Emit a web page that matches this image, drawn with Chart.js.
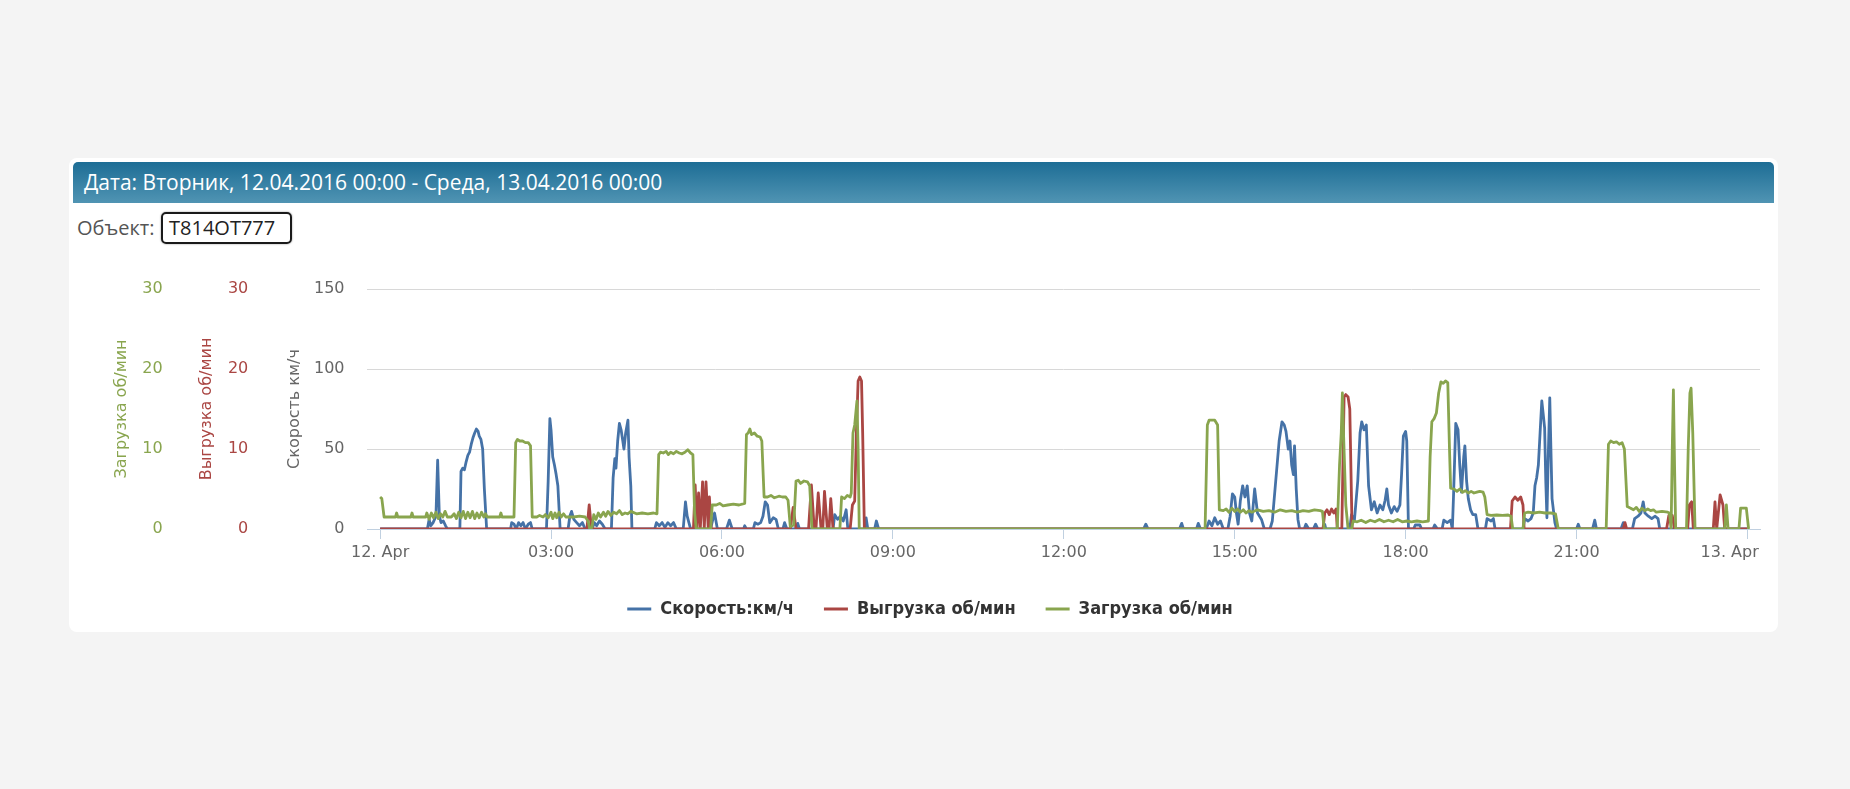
<!DOCTYPE html>
<html lang="ru">
<head>
<meta charset="utf-8">
<title>Скорость и обороты</title>
<script src="https://cdn.jsdelivr.net/npm/chart.js@4.4.1/dist/chart.umd.min.js"></script>
<style>
  html, body { margin: 0; padding: 0; }
  body { width: 1850px; height: 789px; background: #f4f4f4; position: relative; overflow: hidden; font-family: "Open Sans", sans-serif; }
  .card { position: absolute; left: 69px; top: 158px; width: 1709px; height: 474px; background: #fff; border-radius: 8px; }
  .head { position: absolute; left: 73px; top: 162px; width: 1701px; height: 41px; border-radius: 5px 5px 0 0;
          background: linear-gradient(#1d6d95, #5094b3); color: #fff; font-size: 21px; line-height: 41px; padding-left: 11px; box-sizing: border-box; }
  .obj { position: absolute; left: 77px; top: 212px; font-size: 20px; line-height: 32px; color: #555; }
  .plate { position: absolute; left: 161px; top: 212px; width: 131px; height: 32px; box-sizing: border-box; border: 2px solid #1a1a1a;
           border-radius: 5px; box-shadow: 0 0 2px rgba(0,0,0,.45); padding-left: 6px; font-size: 20px; line-height: 28px; color: #222; }
  .wrap { position: absolute; left: 72px; top: 250px; width: 1704px; height: 378px; }
</style>
</head>
<body>
<div class="card"></div>
<div class="head">Дата: Вторник, 12.04.2016 00:00 - Среда, 13.04.2016 00:00</div>
<div class="obj">Объект:</div>
<div class="plate">T814OT777</div>
<div class="wrap"><canvas id="chart"></canvas></div>

<script>
// ---------------------------Data (hours since 12.04 00:00)------------------------------
const tickHours = [0, 3, 6, 9, 12, 15, 18, 21, 24];
const tickLabels = ["12. Apr", "03:00", "06:00", "09:00", "12:00", "15:00", "18:00", "21:00", "13. Apr"];
const seriesNames = ["Скорость:км/ч", "Выгрузка об/мин", "Загрузка об/мин"];

// speed, km/h
const speedPts = [
  [0,0],[0.83,0],[0.86,6],[0.89,2],[0.93,4],[0.98,8],[1.01,43],[1.04,8],[1.07,4],[1.11,5],[1.15,2],[1.18,0],
  [1.4,0],[1.42,36],[1.45,38],[1.48,37],[1.51,42],[1.54,46],[1.57,48],[1.6,53],[1.63,57],[1.66,60],[1.69,62.5],[1.72,61],[1.74,58],[1.77,56],[1.8,50],[1.83,25],[1.87,0],
  [2.29,0],[2.31,4],[2.35,3],[2.39,0],[2.43,4],[2.47,2],[2.51,4],[2.55,0],[2.6,3],[2.64,4],[2.67,0],
  [2.92,0],[2.95,30],[2.98,69],[3.0,62],[3.03,45],[3.06,40],[3.09,34],[3.12,27],[3.16,0],
  [3.3,0],[3.33,8],[3.36,11],[3.4,6],[3.45,4],[3.5,2],[3.55,4],[3.6,0],[3.72,0],[3.76,4],[3.8,2],[3.85,5],[3.9,3],[3.95,0],
  [4.06,0],[4.09,32],[4.12,44],[4.14,38],[4.17,55],[4.2,66],[4.23,62],[4.26,55],[4.28,50],[4.31,60],[4.35,68],[4.37,45],[4.4,27],[4.42,0],
  [4.82,0],[4.85,4],[4.9,2],[4.95,4],[5.0,1],[5.05,4],[5.1,2],[5.15,4],[5.2,0],[5.32,0],[5.36,17],[5.39,8],[5.42,4],[5.45,0],
  [5.8,0],[5.84,6],[5.87,10],[5.92,0],[6.08,0],[6.13,5.5],[6.18,0],[6.38,0],[6.4,2],[6.43,0],[6.55,0],[6.58,4],[6.63,3],[6.68,4],
  [6.72,8],[6.76,17],[6.8,15],[6.84,4],[6.9,7],[6.95,6],[6.99,0],[7.07,0],[7.1,4],[7.14,0],[7.3,0],[7.33,3.5],[7.36,0],
  [7.95,0],[7.98,9],[8.03,6],[8.08,8],[8.13,5],[8.18,12],[8.21,0],[8.5,0],[8.53,7],[8.56,0],[8.68,0],[8.71,5],[8.75,0],
  [13.4,0],[13.44,3],[13.48,0],[14.03,0],[14.07,3.5],[14.1,0],[14.33,0],[14.36,3.5],[14.4,0],
  [14.5,0],[14.55,5],[14.6,2],[14.65,7],[14.7,3],[14.75,5],[14.8,0],[14.88,0],[14.92,8],[14.96,22],[15.0,20],[15.03,10],[15.06,3],
  [15.1,18],[15.14,27],[15.18,20],[15.22,27],[15.26,10],[15.3,5],[15.35,25],[15.4,10],[15.47,6],[15.52,0],
  [15.62,0],[15.66,5],[15.72,30],[15.78,55],[15.83,67],[15.87,65],[15.9,61],[15.94,50],[15.97,55],[16.0,40],[16.03,34],[16.05,52],[16.08,25],[16.11,6],[16.14,0],
  [16.22,0],[16.25,3],[16.3,0],[16.38,0],[16.42,3],[16.46,0],[16.55,0],[16.58,3],[16.6,0],
  [17.02,0],[17.05,9],[17.1,5],[17.16,30],[17.2,60],[17.23,67],[17.27,62],[17.31,65],[17.35,27],[17.4,12],[17.45,17],[17.5,10],[17.55,15],
  [17.6,12],[17.64,18],[17.67,25],[17.7,15],[17.75,10],[17.8,14],[17.85,11],[17.9,15],[17.93,35],[17.96,58],[18.0,61],[18.02,55],[18.05,0],
  [18.14,0],[18.17,2.5],[18.25,2.5],[18.28,0],[18.48,0],[18.51,2.5],[18.56,0],[18.64,0],[18.67,5.5],[18.73,4],[18.79,5.5],[18.82,0],
  [18.84,20],[18.88,66],[18.92,62],[18.95,40],[18.98,23],[19.02,45],[19.04,52],[19.07,30],[19.1,19],[19.14,12],[19.18,9],[19.23,9],[19.27,0],
  [19.4,0],[19.43,6.5],[19.5,5],[19.54,6.5],[19.57,0],[20.06,0],[20.09,6.5],[20.15,5],[20.2,6.5],[20.24,10],[20.27,27],[20.3,32],[20.33,40],
  [20.36,60],[20.39,80],[20.42,70],[20.44,63],[20.46,30],[20.48,7],[20.5,40],[20.53,82],[20.55,50],[20.57,19],[20.62,4],[20.65,0],
  [21.0,0],[21.03,3],[21.06,0],[21.28,0],[21.32,5.5],[21.35,0],[21.78,0],[21.82,4],[21.86,0],
  [21.98,0],[22.02,6.5],[22.08,8],[22.13,10],[22.17,17],[22.2,10],[22.26,8],[22.32,6.5],[22.38,8],[22.43,6.5],[22.46,0],[24.0,0]
];

// unloading, rpm
const unloadPts = [
  [0,0],[3.63,0],[3.67,3],[3.71,0],[5.5,0],[5.53,5.5],[5.56,0],[5.59,4.5],[5.62,0],[5.66,5.9],[5.69,0],[5.72,5.9],[5.76,0],[5.78,4],[5.81,0],
  [7.2,0],[7.25,2.7],[7.3,0],[7.52,0],[7.57,5.5],[7.62,0],[7.65,0],[7.69,4.5],[7.74,0],[7.77,0],[7.8,4.7],[7.85,0],[7.88,0],[7.91,3.8],[7.95,0],
  [8.25,0],[8.29,3],[8.33,3.5],[8.36,12],[8.39,18.5],[8.42,19],[8.45,18.5],[8.47,12],[8.5,0],
  [16.55,0],[16.58,2],[16.62,2.4],[16.66,1.8],[16.7,2.5],[16.74,2],[16.78,2.5],[16.8,0],[16.88,0],[16.92,16.5],[16.95,16.8],[16.99,16.5],[17.02,15],[17.06,0],
  [19.84,0],[19.87,3.5],[19.92,4],[19.97,3.6],[20.02,4],[20.06,3],[20.08,0],[21.82,0],[21.85,0.8],[21.88,0],
  [22.58,0],[22.62,1.7],[22.68,1.7],[22.72,0],[22.95,0],[22.98,3],[23.02,3.4],[23.05,0],[23.4,0],[23.43,3.4],[23.46,0],[23.52,4.25],[23.57,3],[23.6,0],[24.0,0]
];

// loading, rpm
const loadPts = [
  [0,4],[0.03,3.8],[0.07,1.5],[0.27,1.5],[0.29,2],[0.31,1.5],[0.54,1.5],[0.56,2],[0.58,1.5],[0.8,1.5],[0.82,2],[0.86,1.2],[0.9,2],[0.94,1.4],
  [0.98,2.1],[1.02,1.3],[1.06,1.9],[1.1,1.5],[1.14,2.2],[1.18,1.5],[1.25,1.5],[1.3,1.9],[1.34,1.3],[1.38,2.1],[1.42,1.4],[1.46,2.2],[1.5,1.3],
  [1.54,2.1],[1.58,1.4],[1.62,2.2],[1.66,1.3],[1.7,2],[1.74,1.4],[1.78,2.1],[1.82,1.5],[1.85,1.9],[1.88,1.5],[2.1,1.5],[2.12,2],[2.14,1.5],
  [2.35,1.5],[2.38,10.8],[2.41,11.2],[2.45,11],[2.5,11],[2.55,10.8],[2.6,10.8],[2.64,10.4],[2.67,1.5],
  [2.75,1.5],[2.8,1.7],[2.86,1.5],[2.9,1.8],[2.95,1.4],[3.0,2.1],[3.03,1.3],[3.07,2],[3.1,1.4],[3.14,2.1],[3.18,1.5],[3.22,1.9],[3.26,1.5],
  [3.4,1.5],[3.5,1.6],[3.6,1.5],[3.65,1],[3.68,0],[3.72,0.2],[3.75,1.8],[3.79,1.2],[3.83,2],[3.87,1.5],[3.92,2.1],[3.96,1.6],[4.0,2.2],
  [4.05,1.7],[4.1,2.1],[4.15,1.9],[4.2,2.3],[4.25,1.8],[4.3,2],[4.35,1.9],[4.4,2.2],[4.5,1.9],[4.6,2],[4.7,1.9],[4.8,2],[4.86,1.9],
  [4.89,9.3],[4.92,9.6],[4.97,9.5],[5.02,9.7],[5.06,9.3],[5.1,9.6],[5.15,9.4],[5.2,9.7],[5.25,9.5],[5.3,9.4],[5.35,9.6],[5.4,9.9],[5.45,9.5],[5.49,9.3],
  [5.52,2],[5.55,0],[5.8,0],[5.83,3],[5.9,3],[5.96,3.2],[6.02,2.9],[6.1,3],[6.2,3.1],[6.3,3],[6.4,3.2],
  [6.43,11.8],[6.46,12],[6.49,12.5],[6.52,11.8],[6.57,12],[6.62,11.6],[6.67,11.5],[6.7,11],[6.74,4],[6.8,4],[6.86,4.2],[6.92,3.9],[7.0,4.1],
  [7.06,4],[7.12,4],[7.16,3.6],[7.2,0.3],[7.26,0.5],[7.3,6],[7.34,6.1],[7.38,5.7],[7.44,6],[7.5,5.9],[7.54,5.4],[7.58,0],
  [8.07,0],[8.1,4],[8.15,3.8],[8.2,4.2],[8.25,4],[8.27,4.5],[8.3,12],[8.33,13],[8.37,16],[8.39,10],[8.41,0],
  [14.48,0],[14.52,13],[14.55,13.6],[14.65,13.6],[14.7,13],[14.73,2.4],[14.8,2.3],[14.85,2.5],[14.9,2.1],[14.95,2.6],[15.0,2.2],[15.05,2.5],
  [15.1,2.1],[15.15,2.4],[15.2,2],[15.25,2.3],[15.3,2.1],[15.4,2.4],[15.5,2.2],[15.6,2.3],[15.7,2.1],[15.8,2.4],[15.9,2.2],[16.0,2.3],
  [16.1,2.1],[16.2,2.3],[16.3,2.2],[16.4,2.4],[16.5,2.3],[16.54,2.2],[16.57,0],[16.8,0],[16.84,8],[16.87,12],[16.89,17],[16.91,12],[16.95,3],[16.99,0],
  [17.05,0],[17.08,1],[17.15,0.9],[17.22,1.1],[17.3,0.8],[17.38,1.1],[17.46,0.9],[17.54,1.2],[17.62,0.9],[17.7,1.1],[17.78,0.9],[17.86,1.2],
  [17.94,0.9],[18.02,1],[18.1,0.9],[18.2,1],[18.3,0.9],[18.4,1],[18.43,9],[18.46,13.4],[18.5,13.8],[18.54,14.5],[18.58,17],[18.62,18.4],
  [18.66,18.2],[18.7,18.5],[18.74,18.3],[18.77,10],[18.79,5.1],[18.85,5],[18.9,4.7],[18.95,5],[19.0,4.6],[19.05,4.8],[19.1,4.5],[19.15,4.7],
  [19.2,4.5],[19.25,4.6],[19.3,4.7],[19.36,4.6],[19.39,4],[19.43,1.8],[19.5,1.7],[19.6,1.75],[19.7,1.7],[19.8,1.75],[19.85,1.6],[19.88,0],
  [20.06,0],[20.09,2],[20.15,2.1],[20.25,2],[20.35,2.1],[20.45,2],[20.55,2],[20.63,1.9],[20.68,0],
  [21.52,0],[21.56,10.6],[21.6,11],[21.65,10.8],[21.7,10.9],[21.75,10.6],[21.8,10.8],[21.84,10],[21.89,2.8],[21.95,2.6],[22.0,2.4],[22.05,2.7],
  [22.1,2.2],[22.15,2.6],[22.2,2.3],[22.25,2.5],[22.3,2.3],[22.35,2.4],[22.4,2.1],[22.5,2.2],[22.6,2.1],[22.63,2],[22.66,0],
  [22.68,10],[22.7,17.4],[22.72,8],[22.74,0],[22.93,0],[22.96,10],[22.99,17],[23.01,17.6],[23.04,12],[23.08,0],
  [23.6,0],[23.63,3],[23.66,0],[23.85,0],[23.88,2.6],[23.98,2.6],[24.02,0]
];
// ----------------------------------------------------------------------------------------------

const BLUE = "#4572a7", RED = "#aa4643", GREEN = "#89a54e";
const axisFont = { family: "DejaVu Sans", size: 16 };
const toXY = (pts) => pts.map(([x, y]) => ({ x, y }));
const fixWidth = (w) => (scale) => { scale.width = w; };

const line = (label, pts, color, axis, order) => ({
  label, data: toXY(pts), yAxisID: axis, order,
  borderColor: color, backgroundColor: color, borderWidth: 2.8,
  pointRadius: 0, tension: 0, fill: false, borderJoinStyle: "round",
});

new Chart(document.getElementById("chart"), {
  type: "line",
  data: {
    datasets: [
      line(seriesNames[0], speedPts, BLUE, "y", 3),
      line(seriesNames[1], unloadPts, RED, "yR", 2),
      line(seriesNames[2], loadPts, GREEN, "yG", 1),
    ],
  },
  options: {
    responsive: true,
    maintainAspectRatio: false,
    animation: false,
    layout: { padding: { left: 28, right: 16, top: 39, bottom: 0 } },
    plugins: {
      tooltip: { enabled: false },
      legend: {
        position: "bottom",
        labels: {
          boxWidth: 24, boxHeight: 3, padding: 30, color: "#333",
          font: { family: "DejaVu Sans Condensed", size: 18, weight: "bold" },
          sort: (a, b) => a.datasetIndex - b.datasetIndex,
          generateLabels: (chart) =>
            Chart.defaults.plugins.legend.labels.generateLabels(chart).map((l) => ({ ...l, lineWidth: 0 })),
        },
      },
    },
    scales: {
      x: {
        type: "linear", min: -0.23, max: 24.22,
        grid: { drawOnChartArea: false, drawTicks: true, tickLength: 10, tickColor: "#c0d0e0" },
        border: { color: "#c0d0e0" },
        afterBuildTicks: (scale) => { scale.ticks = tickHours.map((v) => ({ value: v })); },
        afterFit: (scale) => { scale.height = 41; scale.paddingLeft = 0; scale.paddingRight = 0; },
        ticks: {
          autoSkip: false, maxRotation: 0, padding: 4, color: "#666", font: axisFont,
          // last label is pushed left to stay inside the plot, like the original
          callback: (v, i) => (i === tickLabels.length - 1 ? tickLabels[i] + "\u00a0".repeat(7) : tickLabels[i]),
        },
      },
      y: {
        position: "left", weight: 0, min: 0, max: 150,
        grid: { color: "#d8d8d8", drawTicks: false },
        border: { display: false },
        afterFit: fixWidth(105),
        ticks: { stepSize: 50, padding: 22.5, color: "#666", font: axisFont },
        title: { display: true, text: "Скорость км/ч", color: "#666", font: axisFont, padding: { top: 23.4, bottom: 0 } },
      },
      yR: {
        position: "left", weight: 1, min: 0, max: 30,
        grid: { display: false, drawTicks: false },
        border: { display: false },
        afterFit: fixWidth(90),
        ticks: { stepSize: 10, padding: 13.7, color: RED, font: axisFont },
        title: { display: true, text: "Выгрузка об/мин", color: RED, font: axisFont, padding: { top: 25.1, bottom: 0 } },
      },
      yG: {
        position: "left", weight: 2, min: 0, max: 30,
        grid: { display: false, drawTicks: false },
        border: { display: false },
        afterFit: fixWidth(72),
        ticks: { stepSize: 10, padding: 9.3, color: GREEN, font: axisFont },
        title: { display: true, text: "Загрузка об/мин", color: GREEN, font: axisFont, padding: { top: 12.1, bottom: 0 } },
      },
    },
  },
});
</script>
</body>
</html>
